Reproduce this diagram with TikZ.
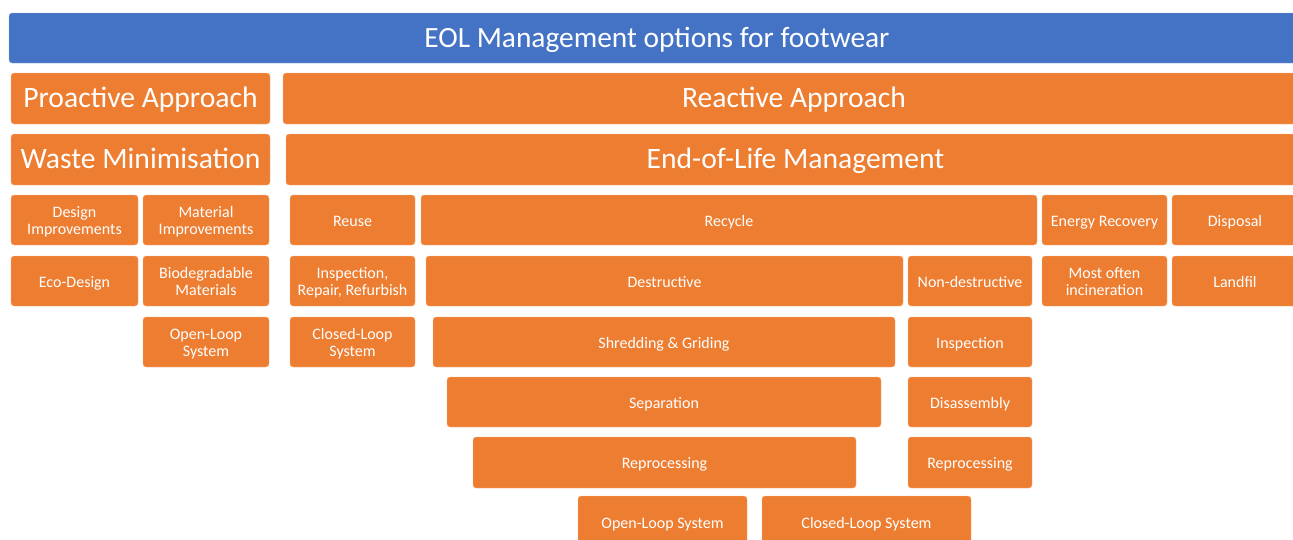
\documentclass[tikz,border=0pt]{standalone}
\usepackage{fontspec}
\setmainfont{Carlito}
\definecolor{orng}{HTML}{ED7D31}
\definecolor{blu}{HTML}{4472C4}
\def\txts{2.6pt}
\newcommand\obx[7][ob]{\node[#1, minimum width={(#5-#3)*1pt}, minimum height={(#6-#4)*1pt}] (#2) at ({(#3+#5)/2},{(#4+#6)/2}) {\raisebox{0pt}[\dimexpr\height+\txts\relax][\dimexpr\depth-\txts\relax]{\begin{tabular}{@{}c@{}}#7\end{tabular}}}}
\begin{document}
\begin{tikzpicture}[x=1pt,y=-1pt,
  ob/.style={rectangle, rounded corners=3pt, fill=orng, draw=orng!55!white, line width=0.4pt,
    text=white, inner sep=0pt, font=\fontsize{16}{17}\selectfont\def\txts{2.6pt}},
  big/.style={ob, font=\fontsize{29.6}{34}\selectfont\def\txts{2.5pt}},
  ttl/.style={big, fill=blu, draw=blu!55!white, font=\fontsize{29.4}{34}\selectfont\def\txts{2.5pt}}]
\useasboundingbox (0,0) rectangle (1293,539);
\clip (0,0) rectangle (1293,539);
\obx[ttl]{t}{9}{13}{1305}{63}{EOL Management options for footwear};
\obx[big]{pro}{11}{73}{270}{124}{Proactive Approach};
\obx[big]{rea}{283}{73}{1305}{124}{Reactive Approach};
\obx[big]{wm}{11}{134}{270}{185}{Waste Minimisation};
\obx[big]{eol}{286}{134}{1305}{185}{End-of-Life Management};
\obx{di}{11}{195}{138}{245}{Design\\Improvements};
\obx{mi}{143}{195}{269}{245}{Material\\Improvements};
\obx{reuse}{290}{195}{415}{245}{Reuse};
\obx{recycle}{421}{195}{1037}{245}{Recycle};
\obx{er}{1042}{195}{1167}{245}{Energy Recovery};
\obx{disp}{1172}{195}{1298}{245}{Disposal};
\obx{eco}{11}{256}{138}{306}{Eco-Design};
\obx{bio}{143}{256}{269}{306}{Biodegradable\\Materials};
\obx{irr}{290}{256}{415}{306}{Inspection,\\Repair, Refurbish};
\obx{dest}{426}{256}{903}{306}{Destructive};
\obx{nd}{908}{256}{1032}{306}{Non-destructive};
\obx{inc}{1042}{256}{1167}{306}{Most often\\incineration};
\obx{land}{1172}{256}{1298}{306}{Landfil};
\obx{olA}{143}{317}{269}{367}{Open-Loop\\System};
\obx{clA}{290}{317}{415}{367}{Closed-Loop\\System};
\obx{shred}{433}{317}{895}{367}{Shredding \& Griding};
\obx{insp}{908}{317}{1032}{367}{Inspection};
\obx{sep}{447}{377}{881}{427}{Separation};
\obx{dis}{908}{377}{1032}{427}{Disassembly};
\obx{repA}{473}{437}{856}{488}{Reprocessing};
\obx{repB}{908}{437}{1032}{488}{Reprocessing};
\obx{olB}{578}{496}{747}{548}{Open-Loop System};
\obx{clB}{762}{496}{971}{548}{Closed-Loop System};
\end{tikzpicture}
\end{document}
